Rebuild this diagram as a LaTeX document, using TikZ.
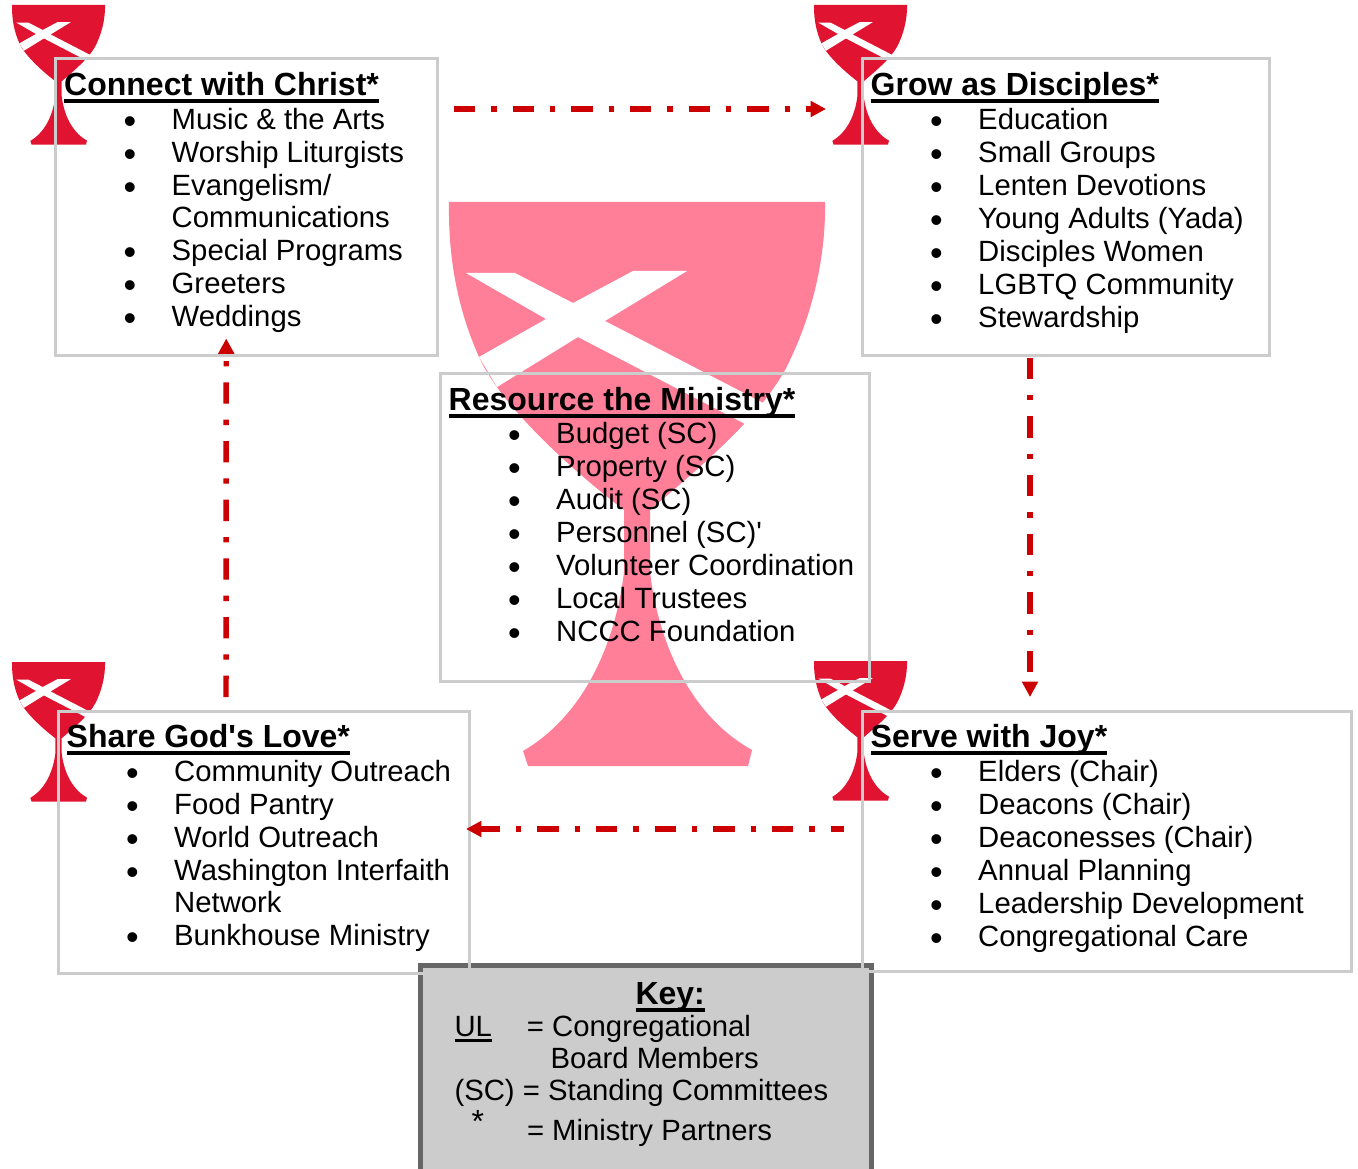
\documentclass[tikz,border=0pt]{standalone}
\usepackage{fontspec}
\newfontfamily\basefont{Liberation Sans}
\usetikzlibrary{arrows.meta}
\newdimen\pxu \pxu=0.75pt
\definecolor{chred}{HTML}{E01430}
\definecolor{chpink}{HTML}{FF7F99}
\definecolor{boxgray}{HTML}{CCCCCC}
\definecolor{keyedge}{HTML}{666666}
\definecolor{arrowred}{HTML}{CC0000}
\newcommand\chalicepath{(0,0) -- (376,0) .. controls (377,60) and (361,120) .. (336,168)
  .. controls (310,215) and (255,262) .. (201,308) -- (201,370)
  .. controls (208,430) and (235,510) .. (303,548) -- (299,564) -- (79,564) -- (74,549)
  .. controls (141,510) and (168,430) .. (175,370) -- (175,308)
  .. controls (115,262) and (50,200) .. (30,155) .. controls (10,110) and (-1,60) .. (0,0) -- cycle}
\newcommand\chalice[4]{%
  \begin{scope}[shift={(#1,#2)},scale=#3]
    \fill[#4] \chalicepath;
    \fill[white] (17,71) -- (66,71) -- (124,101) -- (184,69) -- (238,69) -- (156,119)
      -- (322,205) -- (300,224) -- (129,135) -- (48,185) -- (30,155) -- (97,117) -- cycle;
  \end{scope}}
\newcommand\ttl[1]{\setbox0\hbox{\fontsize{32\pxu}{33\pxu}\selectfont\bfseries #1}%
  \rlap{\rule[-7.5\pxu]{\wd0}{4\pxu}}\box0}
\newcommand\ulthin[1]{\setbox0\hbox{#1}\rlap{\rule[-5.7\pxu]{\wd0}{2.7\pxu}}\box0}
\newcommand\itm[1]{\par\noindent\hspace*{74.5\pxu}\makebox[0pt]{\raisebox{-4\pxu}{\fontsize{36\pxu}{33\pxu}\selectfont •}}\hspace*{41.7\pxu}#1}
\newcommand\cnt[1]{\par\vspace{-1\pxu}\noindent\hspace*{116.2\pxu}#1}
\newenvironment{boxtext}[3]{\begin{minipage}[t][#2\pxu][t]{#1\pxu}%
  \fontsize{29.3\pxu}{33\pxu}\selectfont\parskip=0pt\parindent=0pt
  \noindent\rule{0pt}{#3\pxu}\hspace*{8.7\pxu}\ignorespaces}{\end{minipage}}
\tikzset{
  x=0.75pt,y=-0.75pt,
  every node/.style={font=\basefont},
  infobox/.style={draw=boxgray,line width=2.25pt,inner sep=0pt,outer sep=0pt,anchor=north west},
  keybox/.style={draw=keyedge,fill=boxgray,line width=3.75pt,inner sep=0pt,outer sep=0pt,anchor=north west},
  flow/.style={draw=arrowred,line width=4.1pt,dash pattern=on 16pt off 12pt on 4pt off 12pt,
    -{Triangle[length=11.5pt,width=11.5pt]}},
}
\begin{document}
\begin{tikzpicture}
\useasboundingbox (0,0) rectangle (1358,1169);
\chalice{449}{202}{1}{chpink}
\begin{scope}
\clip (0,0) rectangle (1358,1169);
\node (key) [keybox] at (420.5,965.5) {\begin{minipage}[t][220\pxu][t]{451\pxu}%
  \fontsize{29.3\pxu}{32\pxu}\selectfont\parindent=0pt\parskip=0pt
  \rule{0pt}{38.5\pxu}\hspace*{215\pxu}\ttl{Key:}\par
  \vspace{0pt}\hspace*{34\pxu}\rlap{\ulthin{UL}}\hspace*{72.5\pxu}= Congregational\par
  \hspace*{130\pxu}Board Members\par
  \hspace*{34\pxu}(SC) = Standing Committees\par
  \vspace{3\pxu}\hspace*{51\pxu}\rlap{\raisebox{8\pxu}{\fontsize{32\pxu}{32\pxu}\selectfont *}}\hspace*{55.5\pxu}= Ministry Partners
\end{minipage}};
\end{scope}
\chalice{12}{5}{0.2475}{chred}
\chalice{814}{5}{0.2475}{chred}
\chalice{12}{662}{0.2475}{chred}
\chalice{814}{661}{0.2475}{chred}
\node (connect) [infobox] at (55.5,58.5) {\begin{boxtext}{381.5}{297}{37.5}\ttl{Connect with Christ*}
  \vspace{1\pxu}\itm{Music \& the Arts}\itm{Worship Liturgists}\itm{Evangelism/}\cnt{Communications}\itm{Special Programs}\itm{Greeters}\itm{Weddings}\end{boxtext}};
\node (grow) [infobox] at (862,58.5) {\begin{boxtext}{407}{297}{37.5}\ttl{Grow as Disciples*}
  \vspace{1\pxu}\itm{Education}\itm{Small Groups}\itm{Lenten Devotions}\itm{Young Adults (Yada)}\itm{Disciples Women}\itm{LGBTQ Community}\itm{Stewardship}\end{boxtext}};
\node (resource) [infobox] at (440,373) {\begin{boxtext}{429}{308}{37}\ttl{Resource the Ministry*}
  \itm{Budget (SC)}\itm{Property (SC)}\itm{Audit (SC)}\itm{Personnel (SC)'}\itm{Volunteer Coordination}\itm{Local Trustees}\itm{NCCC Foundation}\end{boxtext}};
\node (share) [infobox] at (58,711) {\begin{boxtext}{411}{262}{36}\ttl{Share God's Love*}
  \vspace{1\pxu}\itm{Community Outreach}\itm{Food Pantry}\itm{World Outreach}\itm{Washington Interfaith}\cnt{Network}\itm{Bunkhouse Ministry}\end{boxtext}};
\node (serve) [infobox] at (862,711) {\begin{boxtext}{489}{260}{36}\ttl{Serve with Joy*}
  \vspace{1\pxu}\itm{Elders (Chair)}\itm{Deacons (Chair)}\itm{Deaconesses (Chair)}\itm{Annual Planning}\itm{Leadership Development}\itm{Congregational Care}\end{boxtext}};
\draw[flow] ([shift={(17,50.5)}]connect.north east) -- ([shift={(-36,50.5)}]grow.north west);
\draw[flow] ([shift={(-35.5,2)}]grow.south) -- ([shift={(-76.5,-14)}]serve.north);
\draw[flow,dash phase=6pt] ([shift={(-18,118)}]serve.north west) -- ([shift={(-3,118)}]share.north east);
\draw[flow] ([shift={(-37.5,-14)}]share.north) -- ([shift={(-20,-17)}]connect.south);
\end{tikzpicture}
\end{document}
